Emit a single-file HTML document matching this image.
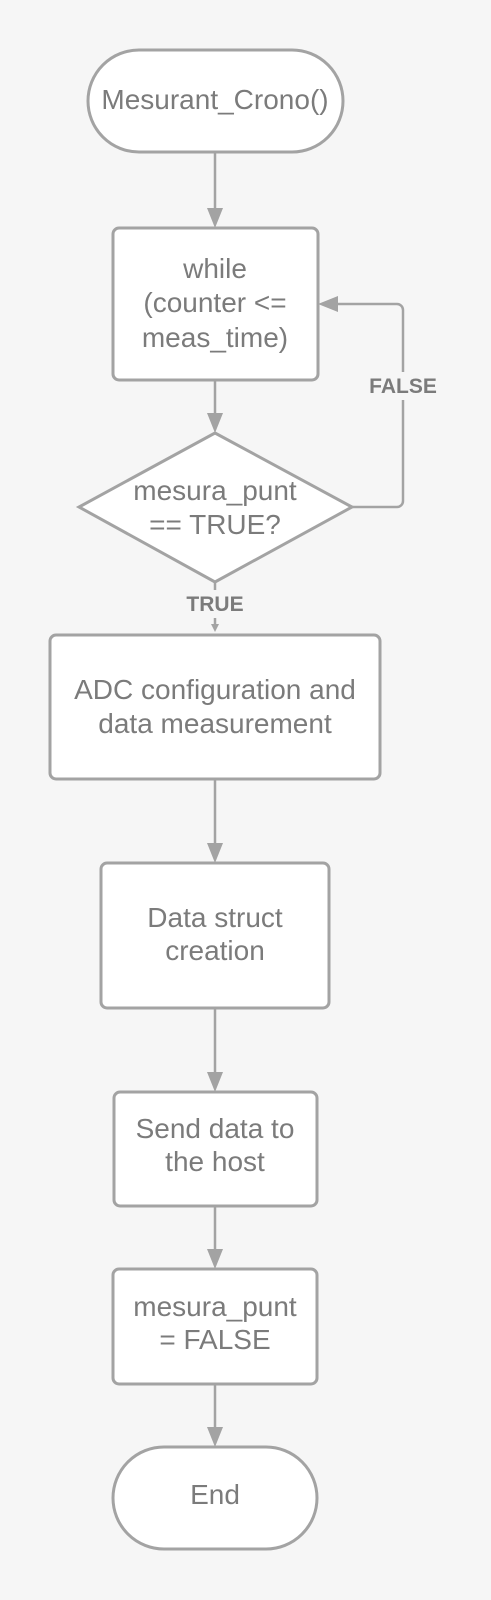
<!DOCTYPE html>
<html><head><meta charset="utf-8"><style>
html,body{margin:0;padding:0;background:#f6f6f6;}
svg{display:block;}
text{font-family:"Liberation Sans",sans-serif;fill:#7b7b7b;font-size:28px;text-anchor:middle;}
.b{font-weight:bold;font-size:21px;}
</style></head><body>
<svg width="491" height="1600" viewBox="0 0 491 1600" xmlns="http://www.w3.org/2000/svg">
<rect width="491" height="1600" fill="#f6f6f6"/>
<g stroke="#a3a3a3" stroke-width="3" fill="#fff">
<rect x="88" y="50" width="255" height="102" rx="51"/>
<rect x="113" y="228" width="205" height="152" rx="6"/>
<polygon points="215,433 352,507 215,582 79,507"/>
<rect x="50" y="635" width="330" height="144" rx="6"/>
<rect x="101" y="863" width="228" height="145" rx="6"/>
<rect x="114" y="1092" width="203" height="114" rx="6"/>
<rect x="113" y="1269" width="204" height="115" rx="6"/>
<rect x="113" y="1447" width="204" height="102" rx="51"/>
</g>
<g stroke="#a3a3a3" stroke-width="2.5" fill="none">
<line x1="215" y1="152" x2="215" y2="208"/>
<line x1="215" y1="380" x2="215" y2="413"/>
<line x1="215" y1="582" x2="215" y2="590"/>
<line x1="215" y1="618" x2="215" y2="624"/>
<line x1="215" y1="779" x2="215" y2="843"/>
<line x1="215" y1="1008" x2="215" y2="1072"/>
<line x1="215" y1="1206" x2="215" y2="1249"/>
<line x1="215" y1="1384" x2="215" y2="1427"/>
<path d="M352 507 H397 a6 6 0 0 0 6 -6 V400"/>
<path d="M403 372 V310 a6 6 0 0 0 -6 -6 H336"/>
</g>
<g fill="#a3a3a3">
<polygon points="207,208 223,208 215,228"/>
<polygon points="207,413 223,413 215,433"/>
<polygon points="211,624 219,624 215,632"/>
<polygon points="207,843 223,843 215,863"/>
<polygon points="207,1072 223,1072 215,1092"/>
<polygon points="207,1249 223,1249 215,1269"/>
<polygon points="207,1427 223,1427 215,1447"/>
<polygon points="338,296 338,312 318,304"/>
</g>
<text x="215" y="109">Mesurant_Crono()</text>
<text x="215" y="278">while</text>
<text x="215" y="312">(counter &lt;=</text>
<text x="215" y="347">meas_time)</text>
<text x="215" y="500">mesura_punt</text>
<text x="215" y="534">== TRUE?</text>
<text class="b" x="403" y="393">FALSE</text>
<text class="b" x="215" y="611">TRUE</text>
<text x="215" y="699">ADC configuration and</text>
<text x="215" y="733">data measurement</text>
<text x="215" y="927">Data struct</text>
<text x="215" y="960">creation</text>
<text x="215" y="1138">Send data to</text>
<text x="215" y="1171">the host</text>
<text x="215" y="1316">mesura_punt</text>
<text x="215" y="1349">= FALSE</text>
<text x="215" y="1504">End</text>
</svg>
</body></html>
